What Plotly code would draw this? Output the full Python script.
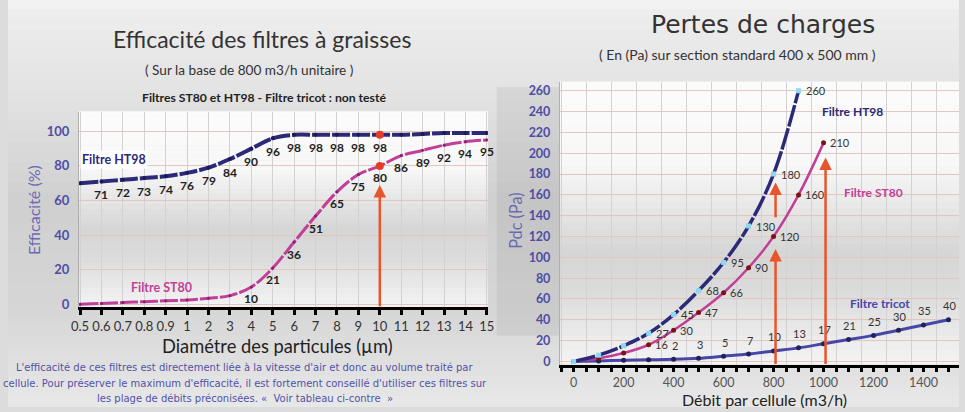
import plotly.graph_objects as go

# ---------------- DATA ----------------
diam_labels = ["0.5", "0.6", "0.7", "0.8", "0.9", "1", "2", "3", "4", "5",
               "6", "7", "8", "9", "10", "11", "12", "13", "14", "15"]
eff_ht98 = [70, 71, 72, 73, 74, 76, 79, 84, 90, 96, 98, 98, 98, 98, 98, 98, 98.5, 99, 99, 99]
eff_st80 = [0, 0.5, 1, 1.5, 2, 2.5, 3.5, 5, 10, 21, 36, 51, 65, 75, 80, 86, 89, 92, 94, 95]
ht98_label_idx = list(range(1, 15))      # labelled points (0.6 .. 10)
st80_label_idx = list(range(8, 20))      # labelled points (4 .. 15)
eff_focus_idx = 14                        # 10 µm highlighted point
eff_arrow_tip = 69

debit_ht98 = [0, 100, 200, 300, 400, 500, 600, 700, 800, 900]
pdc_ht98 = [0, 6, 15, 27, 45, 68, 95, 130, 180, 260]
debit_st80 = [0, 100, 200, 300, 400, 500, 600, 700, 800, 900, 1000]
pdc_st80 = [0, 3, 8, 16, 30, 47, 66, 90, 120, 160, 210]
debit_tricot = [0, 100, 200, 300, 400, 500, 600, 700, 800, 900, 1000, 1100, 1200, 1300, 1400, 1500]
pdc_tricot = [0, 0.5, 1, 1.5, 2, 3, 5, 7, 10, 13, 17, 21, 25, 30, 35, 40]
ht98_pdc_labels_from = 3
st80_pdc_labels_from = 3
tricot_pdc_labels_from = 4
# arrows on the pressure chart: (x, y_start, y_end)
pdc_arrows = [(800, -4, 108), (800, 137, 172), (1000, -4, 196)]

x_ticks_right = [0, 200, 400, 600, 800, 1000, 1200, 1400]

# ---------------- STYLE ----------------
W, H = 965, 412
NAVY = "#2b2a78"
MAGENTA = "#c23f98"
TRICOT = "#4747a6"
RED = "#e8552c"
AXBLUE = "#4d4da6"
FONT = "Lato"
WIDE = "DejaVu Sans"

fig = go.Figure()

# --- left: efficiency
fig.add_trace(go.Scatter(
    x=diam_labels, y=eff_ht98, mode="lines+markers", line=dict(color=NAVY, width=4, shape="spline", dash="18px,2px"),
    marker=dict(size=4, color="#1b1b55"), xaxis="x", yaxis="y", hoverinfo="skip"))
fig.add_trace(go.Scatter(
    x=diam_labels, y=eff_st80, mode="lines+markers", line=dict(color=MAGENTA, width=3, shape="spline", dash="18px,2px"),
    marker=dict(size=3, color="#8a2070"), xaxis="x", yaxis="y", hoverinfo="skip"))
fig.add_trace(go.Scatter(
    x=[diam_labels[eff_focus_idx]] * 2, y=[eff_ht98[eff_focus_idx], eff_st80[eff_focus_idx]],
    mode="markers", marker=dict(size=8, color="#e83a2a"), xaxis="x", yaxis="y", hoverinfo="skip"))

# --- right: pressure drop
fig.add_trace(go.Scatter(
    x=debit_tricot, y=pdc_tricot, mode="lines+markers", line=dict(color=TRICOT, width=3, shape="spline"),
    marker=dict(size=5, color="#22225a"), xaxis="x2", yaxis="y2", hoverinfo="skip"))
fig.add_trace(go.Scatter(
    x=debit_st80, y=pdc_st80, mode="lines+markers", line=dict(color=MAGENTA, width=2.5, shape="spline"),
    marker=dict(size=5, color="#7a1414"), xaxis="x2", yaxis="y2", hoverinfo="skip"))
fig.add_trace(go.Scatter(
    x=debit_ht98, y=pdc_ht98, mode="lines+markers", line=dict(color=NAVY, width=3.5, shape="spline", dash="22px,2px"),
    marker=dict(size=5, symbol="square", color="#8fd6f2"), xaxis="x2", yaxis="y2", hoverinfo="skip"))

ann = []
# value labels left
for i in ht98_label_idx:
    ann.append(dict(x=i, y=eff_ht98[i], xref="x", yref="y", text=f"<b>{eff_ht98[i]:g}</b>", showarrow=False,
                    yshift=-13, font=dict(family=FONT, size=12, color="#222")))
for i in st80_label_idx:
    ann.append(dict(x=i, y=eff_st80[i], xref="x", yref="y", text=f"<b>{eff_st80[i]:g}</b>", showarrow=False,
                    yshift=-12, font=dict(family=FONT, size=12, color="#222")))
# value labels right
for x, y in list(zip(debit_ht98, pdc_ht98))[ht98_pdc_labels_from:]:
    ann.append(dict(x=x, y=y, xref="x2", yref="y2", text=f"{y:g}", showarrow=False, xanchor="left", xshift=5,
                    font=dict(family=FONT, size=11, color="#333")))
for x, y in list(zip(debit_st80, pdc_st80))[st80_pdc_labels_from:]:
    ann.append(dict(x=x, y=y, xref="x2", yref="y2", text=f"{y:g}", showarrow=False, xanchor="left", xshift=4,
                    font=dict(family=FONT, size=11, color="#333")))
for x, y in list(zip(debit_tricot, pdc_tricot))[tricot_pdc_labels_from:]:
    ann.append(dict(x=x, y=y, xref="x2", yref="y2", text=f"{y:g}", showarrow=False, yshift=14, xshift=1,
                    font=dict(family=FONT, size=11, color="#333")))

# arrows
ann.append(dict(x=eff_focus_idx, y=eff_arrow_tip, ax=eff_focus_idx, ay=-2, xref="x", yref="y", axref="x", ayref="y",
                text="", showarrow=True, arrowhead=2, arrowsize=1, arrowwidth=2.5, arrowcolor=RED))
for x, y0, y1 in pdc_arrows:
    ann.append(dict(x=x, y=y1, ax=x, ay=y0, xref="x2", yref="y2", axref="x2", ayref="y2", text="",
                    showarrow=True, arrowhead=2, arrowsize=1, arrowwidth=2.5, arrowcolor=RED, xshift=2))

# series names
ann += [
    dict(x=1.6, y=83.5, xref="x", yref="y", text="<b>Filtre HT98</b>", showarrow=False, bgcolor="white",
         font=dict(family=FONT, size=12.5, color=NAVY), borderpad=1),
    dict(x=3.8, y=9.5, xref="x", yref="y", text="<b>Filtre ST80</b>", showarrow=False,
         font=dict(family=FONT, size=12.5, color=MAGENTA)),
    dict(x=1115, y=240, xref="x2", yref="y2", text="<b>Filtre HT98</b>", showarrow=False,
         font=dict(family=FONT, size=12, color=NAVY)),
    dict(x=1200, y=162, xref="x2", yref="y2", text="<b>Filtre ST80</b>", showarrow=False,
         font=dict(family=FONT, size=12, color=MAGENTA)),
    dict(x=1225, y=56, xref="x2", yref="y2", text="<b>Filtre tricot</b>", showarrow=False,
         font=dict(family=FONT, size=12, color=TRICOT)),
]

def ptext(text, x, y, size, color="#333", family=FONT, **kw):
    return dict(text=text, x=x / W, y=1 - y / H, xref="paper", yref="paper", showarrow=False,
                font=dict(family=family, size=size, color=color), xanchor="center", yanchor="middle", **kw)

BODY = "#5252a8"
ann += [
    ptext("Efficacité des filtres à graisses", 258, 39, 23),
    ptext("( Sur la base de 800 m3/h unitaire )", 245, 71, 13.6),
    ptext("<b>Filtres ST80 et HT98 - Filtre tricot : non testé</b>", 260, 99, 12.2, "#222"),
    ptext("Diamétre des particules (µm)", 273, 350, 18.3, "#222"),
    ptext("L'efficacité de ces filtres est directement liée à la vitesse d'air et donc au volume traité par", 240, 372, 10, BODY, WIDE),
    ptext("cellule. Pour préserver le maximum d'efficacité, il est fortement conseillé d'utiliser ces filtres sur", 240, 388, 10, BODY, WIDE),
    ptext("les plage de débits préconisées. «  Voir tableau ci-contre  »", 240, 403, 10, BODY, WIDE),
    ptext("Efficacité (%)", 26, 213, 16, "#6a6ab4", textangle=-90),
    ptext("Pertes de charges", 766, 25, 25, "#333", WIDE),
    ptext("( En (Pa) sur section standard 400 x 500 mm )", 740, 55, 14),
    ptext("Débit par cellule (m3/h)", 768, 404, 16, "#222"),
    ptext("Pdc (Pa)", 515, 224, 16.3, "#6a6ab4", textangle=-90),
]

# ---------------- BACKGROUND GRADIENTS ----------------
def interp(stops, t):
    for (t0, c0), (t1, c1) in zip(stops, stops[1:]):
        if t0 <= t <= t1:
            f = (t - t0) / (t1 - t0) if t1 > t0 else 0
            return c0 + (c1 - c0) * f
    return stops[-1][1]

shapes = []
paper_stops = [(0, 246), (0.03, 238), (0.25, 226), (0.5, 208), (0.75, 214), (1, 232)]
N = 40
for k in range(N):
    t0, t1 = k / N, (k + 1) / N
    g = int(interp(paper_stops, (t0 + t1) / 2))
    shapes.append(dict(type="rect", xref="paper", yref="paper", x0=0, x1=1, y0=1 - t1, y1=1 - t0 + 0.002,
                       fillcolor=f"rgb({g},{g},{g})", line=dict(width=0), layer="below"))
# darker band between the two panels
shapes.append(dict(type="rect", xref="paper", yref="paper", x0=496 / W, x1=560 / W, y0=1 - 340 / H, y1=1 - 88 / H,
                   fillcolor="rgba(120,120,120,0.12)", line=dict(width=0), layer="below"))
plot_stops = [(0, 252), (0.3, 248), (0.6, 214), (0.75, 220), (0.95, 240), (1, 243)]
for ax in ("", "2"):
    for k in range(N):
        t0, t1 = k / N, (k + 1) / N
        g = int(interp(plot_stops, (t0 + t1) / 2))
        shapes.append(dict(type="rect", xref=f"x{ax} domain", yref=f"y{ax} domain", x0=0, x1=1,
                           y0=1 - t1, y1=1 - t0 + 0.002, fillcolor=f"rgb({g},{g},{g})",
                           line=dict(width=0), layer="below"))

# ---------------- LAYOUT ----------------
L = dict(x0=72, x1=487, top=113, bottom=311)
R = dict(x0=560, x1=965, top=83, bottom=369)

fig.update_layout(
    width=W, height=H, autosize=False, margin=dict(l=0, r=0, t=0, b=0),
    paper_bgcolor="#dcdcdc", plot_bgcolor="rgba(0,0,0,0)", showlegend=False,
    font=dict(family=FONT),
    annotations=ann, shapes=shapes,
    xaxis=dict(domain=[L["x0"] / W, L["x1"] / W], type="category", categoryorder="array", categoryarray=diam_labels,
               range=[-0.05, 19.05], showline=True, linecolor="black", linewidth=3, ticks="outside",
               ticklen=5, tickwidth=3, tickcolor="black", tickfont=dict(family=FONT, size=13, color="#333"),
               showgrid=True, gridcolor="#d2d2d2", gridwidth=1, anchor="y", zeroline=False),
    yaxis=dict(domain=[1 - L["bottom"] / H, 1 - L["top"] / H], range=[-1.7, 111.4], tickvals=[0, 20, 40, 60, 80, 100],
               tickfont=dict(family=FONT, size=13, color=AXBLUE, weight="bold"), showline=True, linecolor="#b0b0b0",
               linewidth=1, gridcolor="#e2c6c0", zeroline=False, ticks="", ticklabelstandoff=6, anchor="x"),
    xaxis2=dict(domain=[R["x0"] / W, R["x1"] / W], range=[-55, 1542], anchor="y2",
                tickvals=list(range(0, 1600, 100)),
                ticktext=[str(v) if v in x_ticks_right else "" for v in range(0, 1600, 100)],
                showline=True, linecolor="black", linewidth=3, ticks="outside", ticklen=4, tickwidth=3,
                tickcolor="black", tickfont=dict(family=FONT, size=12.5, color="#555"), showgrid=False,
                zeroline=False,
                minor=dict(tick0=50, dtick=100, ticks="outside", ticklen=4, tickwidth=3, tickcolor="black",
                           showgrid=True, gridcolor="#d2d2d2", gridwidth=1)),
    yaxis2=dict(domain=[1 - R["bottom"] / H, 1 - R["top"] / H], range=[-3, 268.5], anchor="x2",
                tickvals=list(range(0, 261, 20)),
                tickfont=dict(family=FONT, size=12.5, color=AXBLUE, weight="bold"), showline=True, linecolor="#b0b0b0",
                linewidth=1, gridcolor="#e2c6c0", zeroline=False, ticks="", ticklabelstandoff=6),
)

fig.write_html("out.html", config={"displayModeBar": False},
               post_script="document.body.style.margin='0';document.body.style.overflow='hidden';")
